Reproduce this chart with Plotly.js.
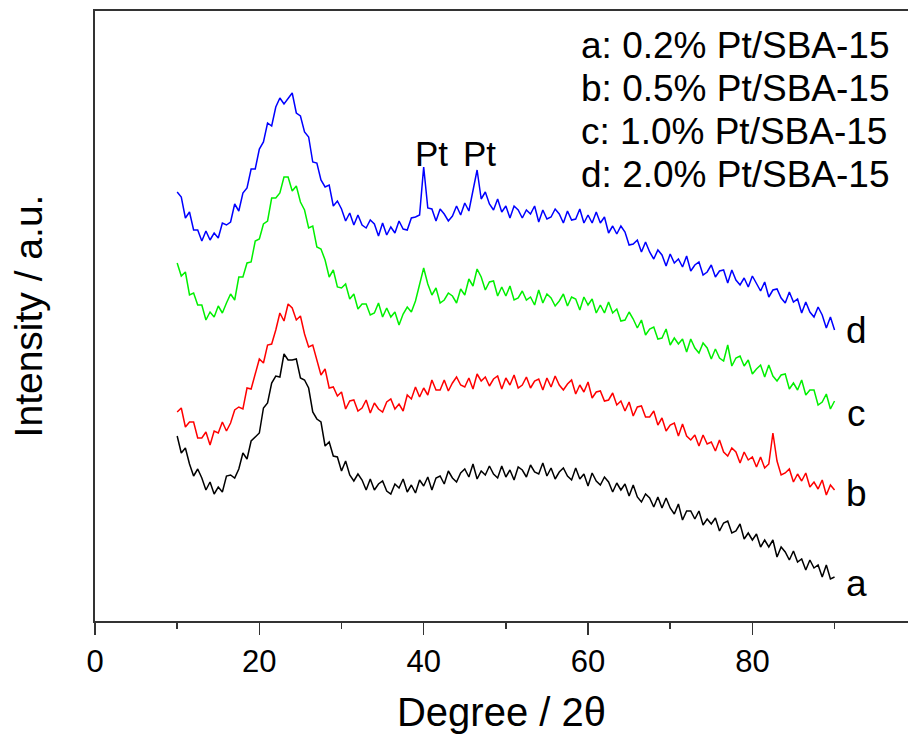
<!DOCTYPE html>
<html>
<head>
<meta charset="utf-8">
<script src="https://cdn.plot.ly/plotly-3.0.1.min.js"></script>
<style>html,body{margin:0;padding:0;background:#fff;overflow:hidden;}#chart{width:912px;height:738px;}</style>
</head>
<body>
<div id="chart"></div>
<script>
// 2θ grid (degrees)
const twoTheta = [10,10.5,11,11.5,12,12.5,13,13.5,14,14.5,15,15.5,16,16.5,17,17.5,18,18.5,19,19.5,
20,20.5,21,21.5,22,22.5,23,23.5,24,24.5,25,25.5,26,26.5,27,27.5,28,28.5,29,29.5,
30,30.5,31,31.5,32,32.5,33,33.5,34,34.5,35,35.5,36,36.5,37,37.5,38,38.5,39,39.5,
40,40.5,41,41.5,42,42.5,43,43.5,44,44.5,45,45.5,46,46.5,47,47.5,48,48.5,49,49.5,
50,50.5,51,51.5,52,52.5,53,53.5,54,54.5,55,55.5,56,56.5,57,57.5,58,58.5,59,59.5,
60,60.5,61,61.5,62,62.5,63,63.5,64,64.5,65,65.5,66,66.5,67,67.5,68,68.5,69,69.5,
70,70.5,71,71.5,72,72.5,73,73.5,74,74.5,75,75.5,76,76.5,77,77.5,78,78.5,79,79.5,
80,80.5,81,81.5,82,82.5,83,83.5,84,84.5,85,85.5,86,86.5,87,87.5,88,88.5,89,89.5,90];

// a: 0.2% Pt/SBA-15 (black)
const seriesA = [185,168,173,157,145,152,143,131,139,127,134,129,145,146,143,152,168,162,180,184,
188,213,218,238,245,244,267,261,261,262,243,241,233,209,202,199,175,179,165,164,
150,160,146,140,147,141,131,142,131,137,140,130,127,137,133,142,129,136,128,141,
135,144,131,143,145,137,150,143,139,148,152,144,157,142,150,146,155,147,143,155,
144,151,141,154,151,144,156,149,147,158,145,153,142,149,153,145,141,153,142,147,
135,148,140,136,144,139,129,138,131,137,125,136,124,119,127,123,114,124,113,123,
113,107,117,101,110,110,102,110,96,102,97,103,90,98,100,88,90,97,82,88,
81,87,74,81,74,81,64,74,69,61,70,59,62,51,61,53,56,44,56,42,44];

// b: 0.5% Pt/SBA-15 (red)
const seriesB = [209,213,194,199,199,183,183,189,176,190,188,199,190,198,211,214,212,233,232,246,
262,258,276,277,291,308,300,317,313,301,305,287,274,276,262,246,252,233,234,225,
229,212,220,221,210,213,221,208,218,212,209,219,222,212,217,210,226,222,234,224,
233,226,241,231,231,241,230,238,244,236,234,243,232,247,240,244,235,242,245,232,
243,236,246,233,236,244,233,240,242,231,243,234,245,236,231,237,241,227,236,229,
239,223,229,230,220,221,228,216,220,210,219,205,214,215,204,204,210,196,203,190,
196,198,185,197,185,181,186,175,186,177,179,170,181,169,165,173,169,158,169,161,
164,154,164,153,157,188,160,146,148,152,139,147,140,148,134,139,132,141,126,136,131];

// c: 1.0% Pt/SBA-15 (green)
const seriesC = [358,345,349,326,328,316,316,301,309,304,315,308,318,327,321,344,344,358,359,380,
382,397,400,423,423,428,444,444,430,435,419,411,393,395,374,372,361,344,351,334,
333,337,322,327,312,317,317,306,308,318,304,313,304,309,296,307,314,309,320,336,
353,337,326,333,318,321,328,325,318,332,326,342,335,352,344,331,339,340,325,334,
325,335,321,323,330,321,324,316,331,318,327,323,315,320,327,315,324,322,311,324,
316,322,308,316,308,319,308,312,300,301,309,302,293,301,286,292,294,282,283,292,
276,283,277,282,269,282,273,268,278,273,262,272,263,260,276,255,263,265,255,261,
247,252,256,244,256,245,240,246,247,232,238,231,241,226,231,231,216,219,227,212,220];

// d: 2.0% Pt/SBA-15 (blue)
const seriesD = [429,424,403,409,391,391,380,390,381,388,383,398,396,399,417,410,428,433,452,452,
472,479,498,495,514,523,517,522,528,508,505,489,484,459,458,441,434,436,415,420,
412,400,408,396,406,396,393,401,397,385,398,386,394,388,400,392,391,403,404,406,
454,413,412,400,412,407,400,405,415,406,418,410,429,451,422,429,417,411,422,409,
415,403,415,411,403,411,407,415,399,411,402,404,412,407,398,410,401,402,412,398,
406,398,409,398,404,388,395,387,395,389,376,377,381,369,379,369,362,371,366,355,
367,358,362,354,365,350,356,359,346,349,356,344,350,351,338,351,341,336,343,334,
345,337,330,339,324,331,332,323,318,329,319,322,308,319,309,304,314,306,293,304,291];

const legendLines = ["a: 0.2% Pt/SBA-15", "b: 0.5% Pt/SBA-15", "c: 1.0% Pt/SBA-15", "d: 2.0% Pt/SBA-15"];
const curveLetters = ["a", "b", "c", "d"];
const peakLabels = ["Pt", "Pt"];
const xTickVals = [0, 20, 40, 60, 80];

const colors = ["#000000", "#ff0000", "#00f000", "#0000ff"];
const allSeries = [seriesA, seriesB, seriesC, seriesD];

const traces = allSeries.map((ys, i) => ({
  x: twoTheta, y: ys, type: "scatter", mode: "lines",
  line: {color: colors[i], width: 1.5}, name: legendLines[i], showlegend: false,
  hoverinfo: "skip"
}));

const font = "Liberation Sans, Arial, sans-serif";
const annotations = [];
// legend text block (top right)
const legendY = [576, 533, 490, 447];
legendLines.forEach((t, i) => annotations.push({
  x: 58.9, y: legendY[i], xref: "x", yref: "y", text: t, showarrow: false,
  xanchor: "left", yanchor: "middle", font: {family: font, size: 37, color: "#000"}
}));
// curve letters at right end
const letterY = [38, 128, 208, 291];
curveLetters.forEach((t, i) => annotations.push({
  x: 92.7, y: letterY[i], xref: "x", yref: "y", text: t, showarrow: false,
  xanchor: "center", yanchor: "middle", font: {family: font, size: 37, color: "#000"}
}));
// Pt peak labels
const peakX = [40.9, 46.8];
peakLabels.forEach((t, i) => annotations.push({
  x: peakX[i], y: 468, xref: "x", yref: "y", text: t, showarrow: false,
  xanchor: "center", yanchor: "middle", font: {family: font, size: 35, color: "#000"}
}));

const layout = {
  width: 912, height: 738,
  margin: {l: 95, r: 4, t: 11, b: 117},
  paper_bgcolor: "#fff", plot_bgcolor: "#fff",
  font: {family: font, color: "#000"},
  xaxis: {
    range: [0, 98.94], tickvals: xTickVals, ticks: "outside", ticklen: 12, tickwidth: 1.5,
    tickcolor: "#333", showline: true, linecolor: "#333", linewidth: 2, mirror: true,
    showgrid: false, zeroline: false,
    tickfont: {family: font, size: 31, color: "#000"},
    minor: {dtick: 10, tick0: 0, ticks: "outside", ticklen: 6, tickwidth: 1.5, tickcolor: "#333", showgrid: false},
    title: {text: "Degree / 2θ", font: {family: font, size: 40, color: "#000"}, standoff: 20}
  },
  yaxis: {
    range: [0, 610], showticklabels: false, ticks: "", showline: true, linecolor: "#333",
    linewidth: 2, showgrid: false, zeroline: false,
    title: {text: "Intensity / a.u.", font: {family: font, size: 39, color: "#000"}, standoff: 38}
  },
  annotations: annotations
};

Plotly.newPlot("chart", traces, layout, {displayModeBar: false, staticPlot: true});
</script>
</body>
</html>
